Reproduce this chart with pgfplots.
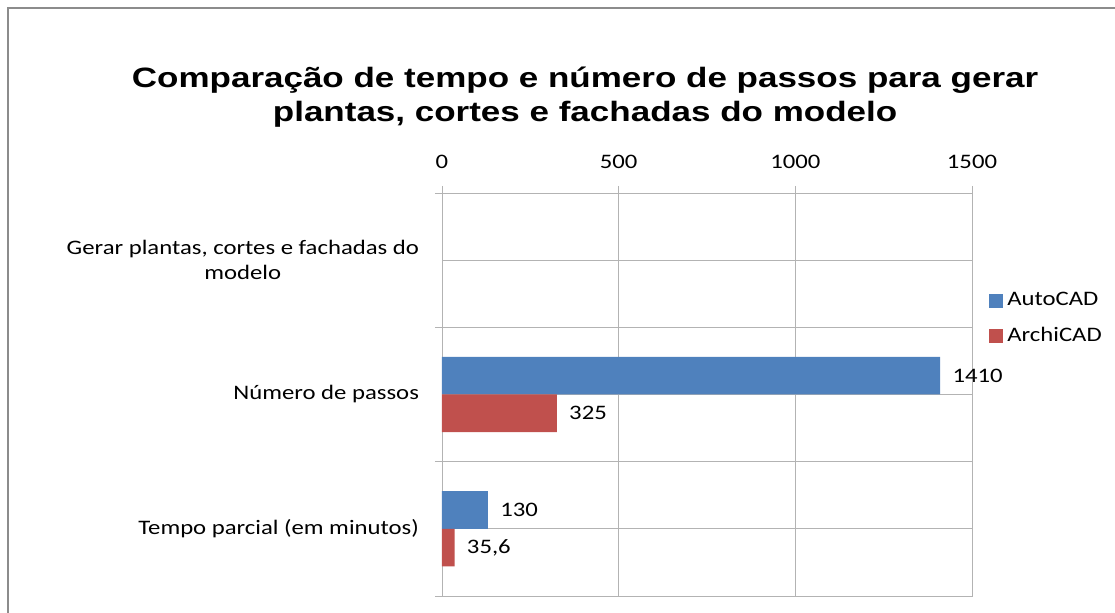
\documentclass[border=0pt]{standalone}
\usepackage{pgfplots}
\pgfplotsset{compat=1.18}
\usepackage{fontspec}
\setmainfont[FakeStretch=1.2]{Carlito}
\newfontfamily\titlefont[FakeStretch=1.25]{Liberation Sans}
\definecolor{autocad}{HTML}{4F81BD}
\definecolor{archicad}{HTML}{C0504D}
\definecolor{gridgray}{HTML}{B3B3B3}
\definecolor{framegray}{HTML}{8C8C8C}
\begin{document}
\begin{tikzpicture}[font=\fontsize{10.3}{12.4}\selectfont]
\begin{axis}[
  at={(0,0)}, anchor=south west,
  scale only axis, width=265pt, height=201.5pt,
  xbar, bar width=0.28,
  xmin=0, xmax=1500, ymin=-0.5, ymax=2.5,
  xtick={0,500,1000,1500}, xtick pos=right, xticklabel pos=right,
  xticklabel style={yshift=5pt},
  /pgf/number format/assume math mode=true,
  /pgf/number format/1000 sep={},
  ytick={-0.5,0.5,1.5,2.5}, yticklabels={}, ytick pos=left,
  extra y ticks={0,1,2},
  extra y tick labels={Tempo parcial (em minutos), Número de passos, {Gerar plantas, cortes e fachadas do\\modelo}},
  extra y tick style={major tick length=0pt, grid=major},
  yticklabel style={align=center, xshift=-8pt},
  tick align=outside, major tick length=3.5pt,
  xmajorgrids, ymajorgrids,
  major grid style={gridgray},
  axis line style={gridgray}, tick style={gridgray},
  title={Comparação de tempo e número de passos para gerar\\plantas, cortes e fachadas do modelo},
  title style={at={(axis description cs:0.270,1.208)}, anchor=center, align=center,
    font=\titlefont\bfseries\fontsize{14}{17}\selectfont},
  point meta=explicit symbolic,
  nodes near coords,
  nodes near coords style={anchor=west, inner sep=0pt, xshift=6pt, text=black},
  legend style={at={(1.0207,0.689)}, anchor=west, draw=none, fill=none, row sep=5pt},
  legend cell align=left,
  legend image code/.code={\fill[#1] (0pt,-3.5pt) rectangle (7pt,3.5pt);},
]
\addplot[fill=autocad, draw=none, bar shift=0.14] coordinates {(130,0) [130] (1410,1) [1410]};
\addplot[fill=archicad, draw=none, bar shift=-0.14] coordinates {(35.6,0) [35,6] (325,1) [325]};
\legend{AutoCAD, ArchiCAD}
\end{axis}
\draw[framegray, line width=1pt] (-217pt,-8.5pt) -- (-217pt,294pt) -- (336.5pt,294pt);
\pgfresetboundingbox
\useasboundingbox (-221pt,-8.5pt) rectangle (336.5pt,298pt);
\end{tikzpicture}
\end{document}
